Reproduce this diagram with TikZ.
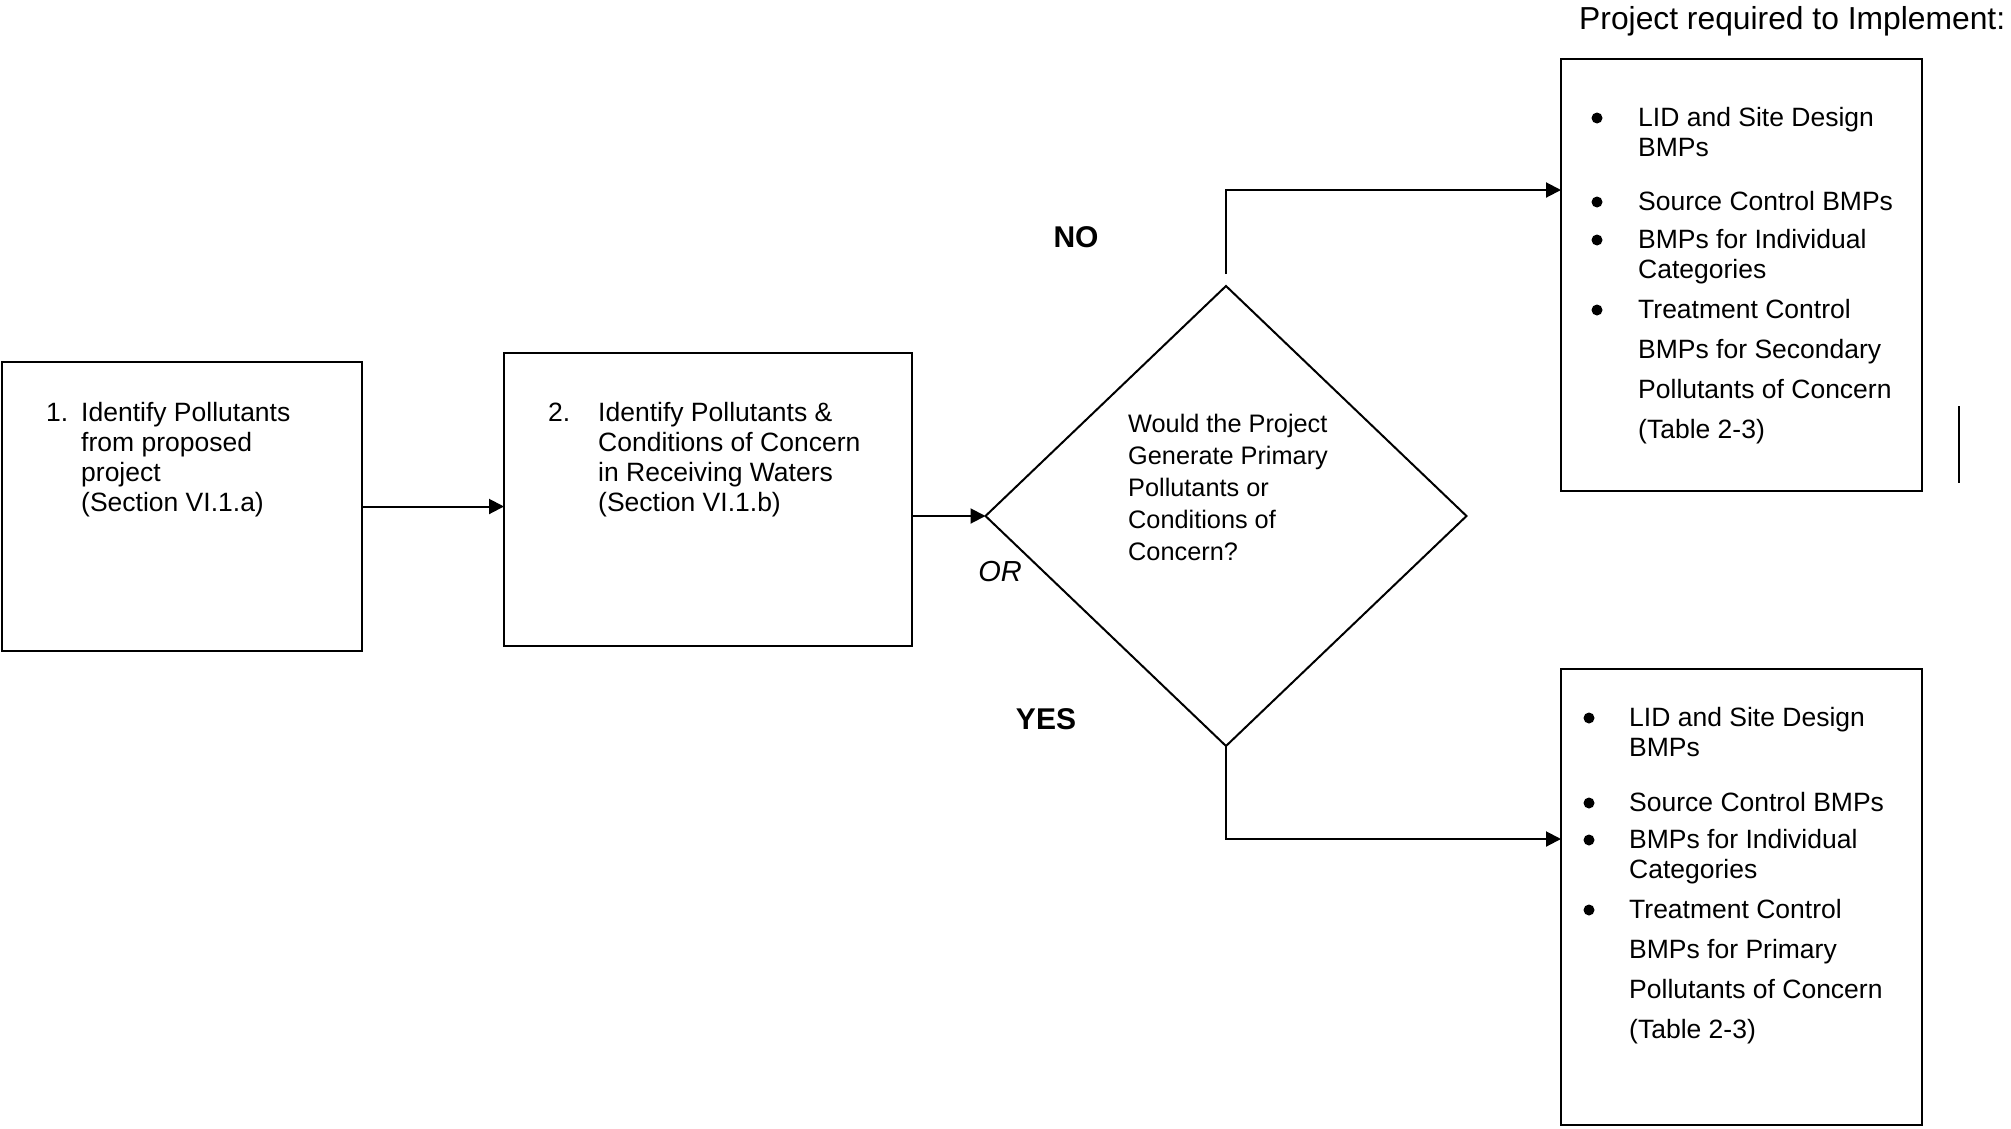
\documentclass[tikz,border=0pt]{standalone}
\usepackage{fontspec}
\setmainfont{Liberation Sans}
\usetikzlibrary{shapes.geometric,arrows.meta}

% Multi-line text nodes are placed by the baseline of their last line.
\tikzset{
  box/.style={draw, line width=2pt, rectangle, inner sep=0pt, outer sep=0pt},
  txt/.style={inner sep=0pt, anchor=base west, align=left},
  body/.style={txt, font=\fontsize{26.5pt}{30pt}\selectfont},
  bodywide/.style={txt, font=\fontsize{26.5pt}{40pt}\selectfont},
  qtext/.style={txt, font=\fontsize{25.3pt}{32pt}\selectfont},
  answer/.style={inner sep=0pt, font=\fontsize{30pt}{34pt}\selectfont\bfseries},
  arr/.style={line width=2pt, -{Triangle[length=15pt,width=15pt]}},
  dot/.style={circle, fill, inner sep=0pt, minimum size=11pt},
}

\begin{document}
\begin{tikzpicture}[x=1pt, y=-1pt]
\useasboundingbox (0,0) rectangle (2011,1128);

% header over the right-hand column
\node[txt, font=\fontsize{31.8pt}{36pt}\selectfont] (head) at (1579,29) {Project required to Implement:};

% step boxes
\node[box, minimum width=360pt, minimum height=289pt] (b1) at (182,506.5) {};
\node[body] (n1) at (46,421) {1.};
\node[body] (t1) at (81,511) {Identify Pollutants\\from proposed\\project\\(Section VI.1.a)};

\node[box, minimum width=408pt, minimum height=293pt] (b2) at (708,499.5) {};
\node[body] (n2) at (548,421) {2.};
\node[body] (t2) at (598,511) {Identify Pollutants \&\\Conditions of Concern\\in Receiving Waters\\(Section VI.1.b)};

% decision
\node[diamond, draw, line width=2pt, inner sep=0pt, outer sep=0pt,
      minimum width=481pt, minimum height=460pt] (dec) at (1226,516) {};
\node[qtext] (q) at (1128,560) {Would the Project\\Generate Primary\\Pollutants or\\Conditions of\\Concern?};

% result boxes
\node[box, minimum width=361pt, minimum height=432pt] (b3) at (1741.5,275) {};
\node[dot] (d31) at (1597,118) {};
\node[body] (i31) at (1638,156) {LID and Site Design\\BMPs};
\node[dot] (d32) at (1597,202) {};
\node[body] (i32) at (1638,210) {Source Control BMPs};
\node[dot] (d33) at (1597,240) {};
\node[body] (i33) at (1638,278) {BMPs for Individual\\Categories};
\node[dot] (d34) at (1597,310) {};
\node[bodywide] (i34) at (1638,438) {Treatment Control\\BMPs for Secondary\\Pollutants of Concern\\(Table 2-3)};

\node[box, minimum width=361pt, minimum height=456pt] (b4) at (1741.5,897) {};
\node[dot] (d41) at (1589,718) {};
\node[body] (i41) at (1629,756) {LID and Site Design\\BMPs};
\node[dot] (d42) at (1589,803) {};
\node[body] (i42) at (1629,811) {Source Control BMPs};
\node[dot] (d43) at (1589,840) {};
\node[body] (i43) at (1629,878) {BMPs for Individual\\Categories};
\node[dot] (d44) at (1589,910) {};
\node[bodywide] (i44) at (1629,1038) {Treatment Control\\BMPs for Primary\\Pollutants of Concern\\(Table 2-3)};

% branch labels
\node[answer] (no) at (1076,237) {NO};
\node[answer] (yes) at (1046,719) {YES};
\node[inner sep=0pt, font=\fontsize{29pt}{33pt}\selectfont\itshape] (or) at (1000,572) {OR};

% connectors
\coordinate (nobend) at (1226,190);
\coordinate (yesbend) at (1226,839);
\draw[arr] (b1.east) -- (b1.east -| b2.west);
\draw[arr] (b2.east |- dec.west) -- (dec.west);
\draw[arr] ([yshift=12pt]dec.north) -- (nobend) -- (nobend -| b3.west);
\draw[arr] (dec.south) -- (yesbend) -- (yesbend -| b4.west);

% short rule to the right of the upper box
\coordinate (rt) at (1959,406);
\coordinate (rb) at (1959,483);
\draw[line width=2pt] (rt) -- (rb);
\end{tikzpicture}
\end{document}
